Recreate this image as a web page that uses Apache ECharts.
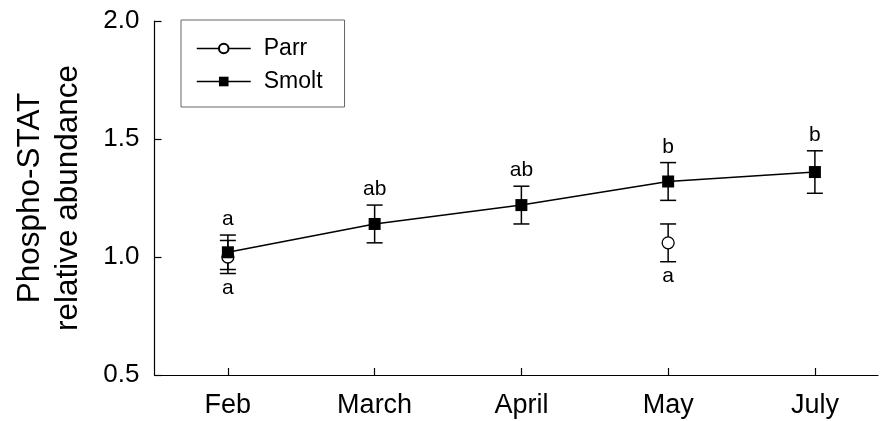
<!DOCTYPE html>
<html>
<head>
<meta charset="utf-8">
<script src="https://cdn.jsdelivr.net/npm/echarts@6/dist/echarts.min.js"></script>
<style>
html,body{margin:0;padding:0;background:#fff;}
#chart{width:880px;height:421px;}
</style>
</head>
<body>
<div id="chart"></div>
<script>
const categories = ['Feb', 'March', 'April', 'May', 'July'];
const smoltMean = [1.02, 1.14, 1.22, 1.32, 1.36];
const smoltErr = [0.073, 0.08, 0.08, 0.08, 0.09];
const smoltLetters = ['a', 'ab', 'ab', 'b', 'b'];
const parrMean = [1.00, null, null, 1.06, null];
const parrErr = [0.07, null, null, 0.08, null];
const parrLetters = ['a', '', '', 'a', ''];
const yTicks = [0.5, 1.0, 1.5, 2.0];

const FONT = 'Liberation Sans, Arial, sans-serif';

function pts(means) {
  return means.map((v, i) => [i + 1, v == null ? null : v]);
}
function errData(means, errs, letters, where) {
  const out = [];
  means.forEach((v, i) => {
    if (v == null) return;
    out.push([i + 1, v - errs[i], v + errs[i], letters[i], where]);
  });
  return out;
}

const errorRender = function (params, api) {
  const x = api.value(0);
  const lo = api.coord([x, api.value(1)]);
  const hi = api.coord([x, api.value(2)]);
  const letter = api.value(3);
  const where = api.value(4);
  const cw = 8;
  const st = { stroke: '#000', lineWidth: 1.5 };
  const children = [
    { type: 'line', shape: { x1: lo[0], y1: lo[1], x2: hi[0], y2: hi[1] }, style: st },
    { type: 'line', shape: { x1: lo[0] - cw, y1: lo[1], x2: lo[0] + cw, y2: lo[1] }, style: st },
    { type: 'line', shape: { x1: hi[0] - cw, y1: hi[1], x2: hi[0] + cw, y2: hi[1] }, style: st }
  ];
  if (letter) {
    if (where === 'top') {
      children.push({ type: 'text', style: { text: letter, x: hi[0], y: hi[1] - 5, align: 'center', verticalAlign: 'bottom', fontSize: 21, fontFamily: FONT, fill: '#000' } });
    } else {
      children.push({ type: 'text', style: { text: letter, x: lo[0], y: lo[1] + 4, align: 'center', verticalAlign: 'top', fontSize: 21, fontFamily: FONT, fill: '#000' } });
    }
  }
  return { type: 'group', children };
};

const chart = echarts.init(document.getElementById('chart'), null, { renderer: 'canvas' });
chart.setOption({
  animation: false,
  backgroundColor: '#fff',
  textStyle: { fontFamily: FONT },
  grid: { left: 154.5, top: 21, bottom: 46, right: 2, containLabel: false },
  legend: {
    left: 181, top: 20, orient: 'vertical',
    padding: [17, 22, 14, 15],
    itemGap: 10,
    itemWidth: 54, itemHeight: 12,
    borderColor: '#666', borderWidth: 1,
    textStyle: { fontSize: 23, color: '#000', fontFamily: FONT, padding: [0, 0, 0, 8] },
    lineStyle: { color: '#000', width: 1.5, opacity: 1 },
    data: ['Parr', 'Smolt']
  },
  xAxis: {
    type: 'value', min: 0.5, max: 5.43,
    splitLine: { show: false },
    axisLine: { show: true, lineStyle: { color: '#000', width: 1.2 } },
    axisTick: { show: true, inside: true, length: 7, customValues: [1, 2, 3, 4, 5], lineStyle: { color: '#000', width: 1.2 } },
    axisLabel: { customValues: [1, 2, 3, 4, 5], formatter: v => categories[Math.round(v) - 1] || '', fontSize: 27, color: '#000', margin: 17, fontFamily: FONT }
  },
  yAxis: {
    type: 'value', min: 0.5, max: 2.0, interval: 0.5,
    splitLine: { show: false },
    axisLine: { show: true, lineStyle: { color: '#000', width: 1.2 } },
    axisTick: { show: true, inside: true, length: 7, lineStyle: { color: '#000', width: 1.2 } },
    axisLabel: { formatter: v => v.toFixed(1), fontSize: 26, color: '#000', margin: 15, fontFamily: FONT },
    name: 'Phospho-STAT\nrelative abundance',
    nameLocation: 'middle', nameRotate: 90, nameGap: 67,
    nameTextStyle: { fontSize: 31.5, lineHeight: 38, color: '#000', fontFamily: FONT }
  },
  series: [
    {
      type: 'custom', name: 'errSmolt', z: 1, renderItem: errorRender,
      data: errData(smoltMean, smoltErr, smoltLetters, 'top'), encode: { x: 0, y: [1, 2] }, silent: true
    },
    {
      type: 'custom', name: 'errParr', z: 1, renderItem: errorRender,
      data: errData(parrMean, parrErr, parrLetters, 'bottom'), encode: { x: 0, y: [1, 2] }, silent: true
    },
    {
      type: 'line', name: 'Parr', z: 3, data: pts(parrMean), connectNulls: false,
      symbol: 'circle', symbolSize: 12,
      itemStyle: { color: '#fff', borderColor: '#000', borderWidth: 1.3 },
      lineStyle: { color: '#000', width: 1.5 }
    },
    {
      type: 'line', name: 'Smolt', z: 4, data: pts(smoltMean),
      symbol: 'rect', symbolSize: 12,
      itemStyle: { color: '#000', borderColor: '#000', borderWidth: 0 },
      lineStyle: { color: '#000', width: 1.5 }
    }
  ]
});
</script>
</body>
</html>
